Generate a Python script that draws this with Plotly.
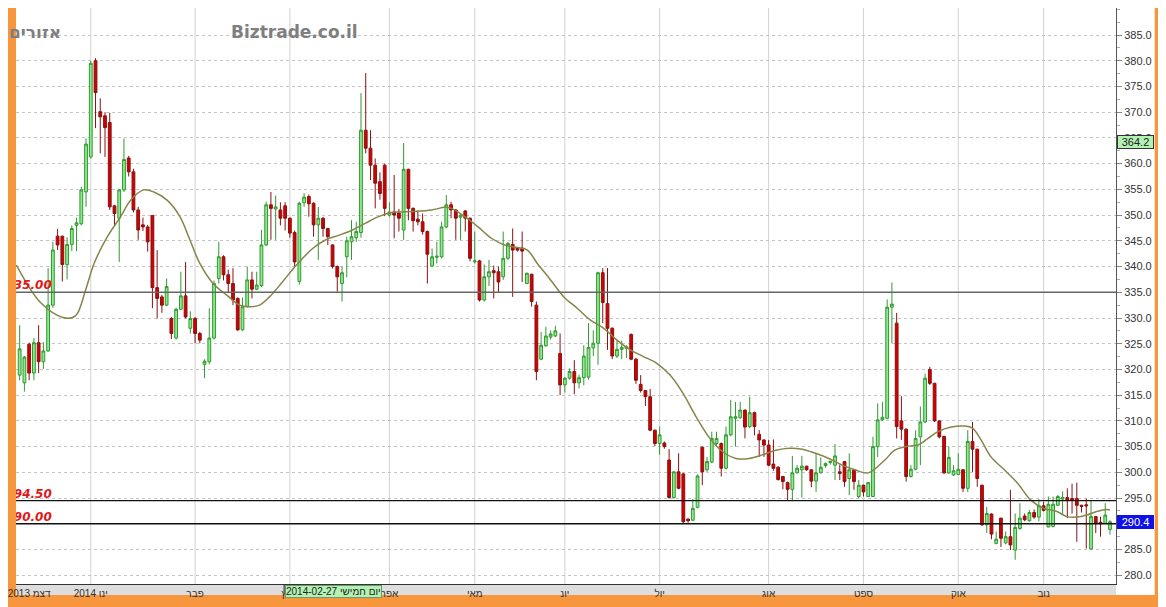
import plotly.graph_objects as go

# ---------------- data ----------------
opens = [318.9,317.4,324.9,319.3,325.2,321.5,323.6,332.5,345.9,345.9,340.4,344.3,348.0,348.3,354.5,361.3,380.0,370.1,369.3,368.0,
         351.8,349.4,354.9,361.1,358.4,351.0,348.1,347.7,349.9,335.9,334.1,332.5,329.9,326.1,331.7,334.3,328.0,329.9,327.0,321.0,
         321.5,326.1,337.7,341.9,338.4,336.7,333.8,327.7,332.2,337.4,335.6,336.3,344.2,352.0,351.2,351.0,351.8,349.4,346.6,337.1,
         352.4,353.6,352.3,348.1,349.4,347.4,344.2,340.0,336.7,341.9,344.8,345.6,346.6,366.5,363.0,359.7,356.5,359.7,350.0,350.6,
         350.4,347.1,358.9,351.3,349.2,348.7,346.8,340.1,341.8,341.9,347.7,352.0,351.0,349.6,350.8,349.4,340.9,341.1,333.5,338.0,
         339.2,339.0,338.0,341.6,344.3,343.6,343.6,336.7,338.5,332.5,322.0,324.6,326.3,326.5,323.1,317.0,318.3,319.6,317.4,318.4,
         318.5,324.2,325.1,338.8,332.8,328.0,322.6,323.9,324.1,326.8,322.0,317.1,315.9,314.7,308.2,305.6,305.7,302.4,295.1,300.1,
         299.7,290.9,290.7,293.2,304.9,300.5,302.0,305.6,305.6,300.8,307.3,310.5,310.6,312.1,308.9,311.6,307.4,306.3,305.3,301.6,
         301.0,299.2,298.0,296.7,299.9,300.5,301.2,300.5,298.3,299.9,301.3,301.9,301.4,300.1,302.1,298.8,300.5,295.3,297.5,295.3,
         295.3,305.0,310.2,310.5,332.1,329.0,310.0,308.4,299.2,300.6,306.9,309.8,320.0,317.3,310.0,307.0,299.9,299.5,299.6,300.5,
         296.9,306.0,304.5,297.5,289.8,291.9,286.2,291.1,286.3,287.5,284.9,289.1,291.5,290.6,292.2,291.3,293.5,289.4,289.5,293.6,
         294.8,295.1,294.9,294.9,293.6,293.7,285.1,291.4,290.3,290.1,288.9]
highs = [328.6,322.6,325.2,326.1,328.6,325.3,339.7,344.8,347.3,346.0,345.7,348.0,349.5,355.5,364.9,380.0,380.5,372.7,370.0,369.9,
         352.0,355.0,364.9,361.5,359.0,351.6,349.5,348.1,350.0,343.2,334.5,337.7,330.2,332.0,339.0,340.9,331.3,330.2,327.3,322.0,
         331.9,337.3,344.8,342.2,339.4,339.7,334.0,334.0,340.0,339.0,339.0,347.1,352.6,354.5,353.8,352.5,352.5,349.5,347.0,352.6,
         354.3,354.0,352.5,351.6,349.6,347.5,344.3,340.2,340.0,345.8,349.0,348.7,373.7,377.6,366.5,361.0,358.3,360.0,352.5,357.8,
         351.2,364.0,359.0,351.5,350.9,350.3,347.0,343.5,344.8,348.7,353.9,352.6,351.2,350.3,351.0,349.5,346.8,341.3,340.4,341.3,
         340.2,340.0,346.8,344.8,347.4,343.8,346.8,338.8,338.6,333.2,327.3,328.3,327.6,328.5,327.0,318.5,320.2,321.8,319.0,324.7,
         329.0,327.6,339.0,339.7,339.7,328.2,325.6,325.6,324.7,327.0,322.2,318.9,316.0,316.2,308.3,308.9,306.0,304.5,300.2,303.7,
         299.9,291.1,294.8,299.6,305.0,303.0,307.9,307.9,305.8,308.9,314.1,313.7,313.7,312.2,314.7,311.8,308.2,306.4,306.3,306.4,
         301.2,299.3,298.2,303.2,301.4,303.2,301.3,300.6,303.7,302.9,301.9,302.3,305.5,301.5,302.2,303.7,300.6,298.5,297.6,298.1,
         306.9,313.4,313.7,333.6,336.9,331.0,314.8,308.5,301.4,308.2,312.8,319.2,320.5,317.4,310.1,307.1,305.0,301.4,303.7,300.6,
         308.2,309.8,304.6,297.6,293.3,292.0,288.5,291.2,288.5,296.6,292.0,294.0,292.0,292.7,292.8,294.8,294.3,295.3,295.3,295.6,
         296.3,296.9,297.8,298.0,293.7,294.9,294.6,291.5,291.4,294.0,290.7]
lows = [317.9,315.7,317.9,317.9,319.3,320.1,323.4,332.0,343.2,337.1,337.5,343.0,343.0,348.0,351.6,361.0,366.9,362.0,361.3,351.0,
        347.9,340.9,354.5,357.5,350.5,345.2,346.9,342.9,331.9,329.9,331.0,332.3,325.9,325.8,331.5,329.9,327.0,325.1,325.1,318.3,
        321.0,325.8,336.7,337.3,334.8,332.5,327.5,327.5,332.0,333.8,335.4,336.0,344.0,345.2,345.2,348.0,347.0,345.6,340.0,336.5,
        351.6,349.7,345.8,341.3,345.8,344.2,339.6,335.1,333.2,337.9,341.3,344.8,345.6,362.0,356.8,351.3,353.0,349.8,349.7,345.5,
        346.8,345.2,349.0,346.8,348.0,346.2,336.7,340.0,340.6,341.6,347.4,349.4,345.2,345.2,346.8,341.0,340.6,333.2,333.2,336.2,
        333.8,335.0,337.4,341.3,334.1,342.9,337.0,336.6,332.2,317.9,321.8,324.4,325.8,326.3,315.0,315.5,318.0,315.2,316.3,316.9,
        318.0,322.6,320.9,329.0,323.8,322.0,322.2,322.0,322.2,321.8,317.2,315.5,312.9,308.0,305.1,303.4,304.6,294.9,294.9,296.7,
        290.0,290.2,290.5,293.0,297.5,300.1,301.8,305.0,299.2,300.6,307.0,305.0,310.4,306.6,308.6,307.2,303.0,303.0,301.2,300.3,
        298.4,296.7,294.6,294.6,299.8,295.1,300.3,297.1,296.2,299.8,300.9,301.5,298.5,298.5,297.2,295.6,296.6,295.0,295.3,295.2,
        295.2,303.0,310.0,310.3,325.1,306.6,306.3,298.2,299.0,300.4,301.4,309.6,317.0,309.8,306.6,299.7,299.7,299.3,299.5,296.2,
        296.2,300.1,297.2,289.6,288.2,287.0,286.0,285.5,286.0,284.9,283.0,288.8,290.5,290.4,291.0,290.5,292.4,289.3,289.3,293.5,
        291.7,291.1,292.0,286.5,292.2,285.2,285.0,288.2,287.5,290.0,287.9]
closes = [324.0,322.4,319.3,325.2,321.5,323.6,332.5,343.2,344.2,340.4,344.3,347.4,348.5,354.9,363.8,379.5,373.8,369.1,367.0,351.6,
          350.3,354.9,360.8,358.4,351.0,347.1,347.7,344.8,335.9,333.8,332.5,336.1,327.0,331.7,334.3,330.2,329.9,327.0,325.7,321.6,
          326.1,336.7,341.9,338.4,336.7,333.5,327.7,332.2,337.4,335.6,336.4,344.2,352.0,351.3,351.6,349.4,349.4,346.5,340.9,352.3,
          353.5,352.2,348.1,349.4,347.4,345.8,340.0,338.0,338.8,345.0,345.8,346.8,366.5,363.0,359.7,356.2,354.2,351.3,350.6,350.0,
          349.4,358.9,351.3,348.9,348.7,346.8,342.4,341.9,342.0,347.7,352.0,351.0,349.4,350.0,349.4,341.6,341.1,333.5,338.0,339.0,
          338.8,337.0,341.6,344.5,343.2,343.2,343.0,338.7,333.2,319.6,324.7,326.5,326.9,327.5,317.0,318.3,319.6,317.4,318.4,322.6,
          324.3,325.1,338.8,333.0,328.0,322.6,323.9,324.3,324.4,322.0,317.9,315.9,314.7,308.2,305.6,307.3,305.0,295.1,300.1,296.9,
          290.4,290.6,293.0,299.3,300.1,302.1,306.6,306.6,300.8,307.3,310.8,310.8,312.1,308.8,311.6,308.9,306.3,305.3,301.4,300.8,
          298.6,298.2,296.7,299.9,300.8,301.2,300.5,298.3,299.9,301.0,301.7,302.1,303.2,299.8,298.2,300.5,298.2,297.5,296.2,298.0,
          305.0,310.2,310.7,332.1,332.7,308.9,308.4,299.2,300.6,306.6,309.8,318.3,317.3,310.0,306.9,299.9,302.9,300.3,300.6,296.9,
          306.0,304.5,298.8,289.8,292.0,288.0,287.0,287.2,287.5,285.9,289.3,291.1,290.8,292.2,291.3,293.5,292.6,293.8,293.8,295.3,
          295.1,294.5,294.6,293.6,293.4,293.5,291.4,290.1,290.0,291.7,290.4]

# moving-average line (candle position, value)
ma_pos = [-0.7,4.5,9.1,11.2,12.2,13.9,15.7,18.5,21.3,23.4,26.2,28.3,31.1,33.8,35.9,38.0,40.8,43.6,46.4,48.5,50.6,52.7,55.5,
          58.3,61.8,64.6,67.4,70.2,72.9,75.7,78.5,82.7,86.9,89.7,91.1,93.9,96.7,99.5,102.3,105.0,107.1,109.2,112.0,114.8,117.6,
          120.4,123.2,126.0,128.8,131.6,134.4,137.2,139.9,142.7,145.6,148.3,151.1,153.9,156.7,159.5,162.3,165.1,167.9,170.7,173.5,
          176.2,179.0,182.5,184.6,187.4,189.5,191.6,193.7,196.5,199.3,201.0,202.8,204.9,207.7,210.5,213.3,216.0,218.8,220.9,223.0,
          225.1,227.2,229.3,230.0]
ma_val = [340.3,332.9,330.1,330.1,330.9,335.4,340.6,345.8,349.7,352.9,354.9,354.5,352.9,349.7,345.2,340.6,336.7,334.5,332.5,332.2,
          332.5,334.1,337.1,340.2,343.5,345.2,346.1,347.1,348.4,349.7,350.5,350.7,351.0,351.5,351.3,349.7,347.7,345.5,344.2,343.7,
          343.2,340.6,337.4,334.1,331.9,329.6,328.0,325.7,323.8,322.5,321.2,318.9,315.4,310.8,306.6,304.0,302.7,302.7,303.4,304.3,
          304.7,304.5,303.7,302.7,301.4,300.5,299.9,302.4,304.3,305.1,305.3,306.6,307.9,308.8,309.0,308.6,306.3,303.0,300.5,297.9,
          294.6,293.0,292.4,291.4,291.3,291.7,292.4,292.8,292.7]

# month starts (candle position) and labels
month_pos = [2, 15, 37, 57, 78, 96, 115, 135, 158, 178, 198, 216]
month_labels = ["2013 דצמ", "2014 ינו", "פבר", "מרץ", "אפר", "מאי", "יונ", "יול", "אוג", "ספט", "אוק", "נוב"]

# horizontal levels
levels = [335.0, 294.5, 290.0]
level_labels = ["335.00", "294.50", "290.00"]
level_colors = ["#666666", "#111111", "#111111"]

y_ticks = [280, 285, 290, 295, 300, 305, 310, 315, 320, 325, 330, 335, 340, 345, 350, 355, 360, 365, 370, 375, 380, 385]

last_price = 290.4
cross_price = 364.2
cross_pos = 56
cross_date = "2014-02-27 יום חמישי"

idx = list(range(len(opens)))

# ---------------- figure ----------------
# the page shows the figure 8px in from the top-left corner
OFF = 8
W, H = 1166 - OFF, 607 - OFF
ML, MR, MT, MB = 0, 50, 0, 23
PW, PH = W - ML - MR, H - MT - MB
ORANGE = "#F7963C"
FONT = "Liberation Sans, DejaVu Sans, Arial"


def px(xw):
    return (xw - OFF - ML) / PW


def py(yw):
    return 1 - (yw - OFF - MT) / PH


fig = go.Figure()

fig.add_trace(go.Candlestick(
    x=idx, open=opens, high=highs, low=lows, close=closes,
    increasing=dict(fillcolor="#8FEA8F", line=dict(color="#2F9A2F", width=1)),
    decreasing=dict(fillcolor="#D40000", line=dict(color="#8A1010", width=1)),
    whiskerwidth=0, showlegend=False, hoverinfo="skip",
))

fig.add_trace(go.Scatter(
    x=ma_pos, y=ma_val, mode="lines",
    line=dict(color="#85854A", width=1.5, shape="spline", smoothing=1.0),
    showlegend=False, hoverinfo="skip",
))

# level labels (first digit slightly clipped at the plot's left edge, as in the reference)
fig.add_trace(go.Scatter(
    x=[-3.0] * len(levels), y=levels, mode="text", text=level_labels,
    textposition="top right",
    textfont=dict(color="#E01818", size=12, family="DejaVu Sans", weight="bold", style="italic"),
    showlegend=False, hoverinfo="skip", cliponaxis=True,
))

# purple cut-off text at the very top
fig.add_trace(go.Scatter(
    x=[1.3], y=[390.7], mode="text", text=["M:382.50"], textposition="middle right",
    textfont=dict(color="#8A62B0", size=10, family=FONT),
    showlegend=False, hoverinfo="skip", cliponaxis=True,
))

shapes = []
# white area behind the price labels on the right
shapes.append(dict(type="rect", xref="paper", yref="paper", x0=1, x1=1 + 39 / PW, y0=-11 / PH, y1=1,
                   fillcolor="white", line=dict(width=0), layer="below"))
# grey date band
shapes.append(dict(type="rect", xref="paper", yref="paper", x0=0, x1=1, y0=-11 / PH, y1=0,
                   fillcolor="#DEDEDE", line=dict(width=0), layer="below"))
# month grid lines
for p in month_pos[1:]:
    shapes.append(dict(type="line", xref="x", yref="paper", x0=p, x1=p, y0=0, y1=1,
                       line=dict(color="#D2D2D2", width=1), layer="below"))
# horizontal levels
for lv, col in zip(levels, level_colors):
    shapes.append(dict(type="line", xref="paper", yref="y", x0=0, x1=1, y0=lv, y1=lv,
                       line=dict(color=col, width=1.4), layer="above"))
# small crosshair marker in the date band
shapes.append(dict(type="rect", xref="x", yref="paper", x0=cross_pos - 0.35, x1=cross_pos - 0.05,
                   y0=-10 / PH, y1=-1 / PH, fillcolor="#555555", line=dict(width=0)))

annotations = [
    dict(text="Biztrade.co.il", xref="paper", yref="paper", x=px(289), y=py(32),
         xanchor="center", yanchor="middle", showarrow=False,
         font=dict(family="DejaVu Sans", size=17, color="#7F7F7F", weight="bold")),
    dict(text="אזורים", xref="paper", yref="paper", x=px(-1), y=py(32),
         xanchor="left", yanchor="middle", showarrow=False,
         font=dict(family="DejaVu Sans", size=17, color="#7F7F7F", weight="bold")),
    dict(text="%.1f" % cross_price, xref="paper", yref="y", x=1, y=cross_price, xanchor="left", yanchor="middle",
         xshift=1, width=35, height=12, showarrow=False, bgcolor="#B4F2B4", bordercolor="#333333",
         borderwidth=1, borderpad=0, font=dict(family=FONT, size=11, color="#222222")),
    dict(text="%.1f" % last_price, xref="paper", yref="y", x=1, y=last_price, xanchor="left", yanchor="middle",
         xshift=1, width=35, height=12, showarrow=False, bgcolor="#1010E8", bordercolor="#1010E8",
         borderwidth=1, borderpad=0, font=dict(family=FONT, size=11, color="white")),
    dict(text=cross_date, xref="x", yref="paper", x=cross_pos, y=-0.5 / PH, xanchor="left", yanchor="top",
         showarrow=False, bgcolor="#B4F2B4", bordercolor="#6A9A6A", borderwidth=1, borderpad=0,
         font=dict(family=FONT, size=10, color="#222222")),
]

fig.update_layout(
    width=W, height=H,
    margin=dict(l=ML, r=MR, t=MT, b=MB, pad=0),
    paper_bgcolor=ORANGE, plot_bgcolor="white",
    showlegend=False, boxgap=0.16,
    shapes=shapes, annotations=annotations,
    xaxis=dict(
        range=[-0.775, 231.27], rangeslider=dict(visible=False),
        showgrid=False, zeroline=False,
        tickmode="array", tickvals=month_pos, ticktext=month_labels,
        ticks="", ticklabelstandoff=0, ticklabeloverflow="allow",
        tickfont=dict(family=FONT, size=10, color="#333333"),
        showline=True, linecolor="#333333", linewidth=1,
    ),
    yaxis=dict(
        side="right", range=[278.3, 390.25],
        tickmode="array", tickvals=y_ticks, tickformat=".1f",
        ticks="outside", ticklen=5, tickcolor="#888888",
        minor=dict(dtick=2.5, tick0=280, ticks="outside", ticklen=3, tickcolor="#AAAAAA", showgrid=False),
        showgrid=True, gridcolor="#C4C4C4", griddash="dot", gridwidth=1,
        zeroline=False, showline=True, linecolor="#555555", linewidth=1,
        tickfont=dict(family=FONT, size=11, color="#333333"),
    ),
)

fig.write_html("out.html")
